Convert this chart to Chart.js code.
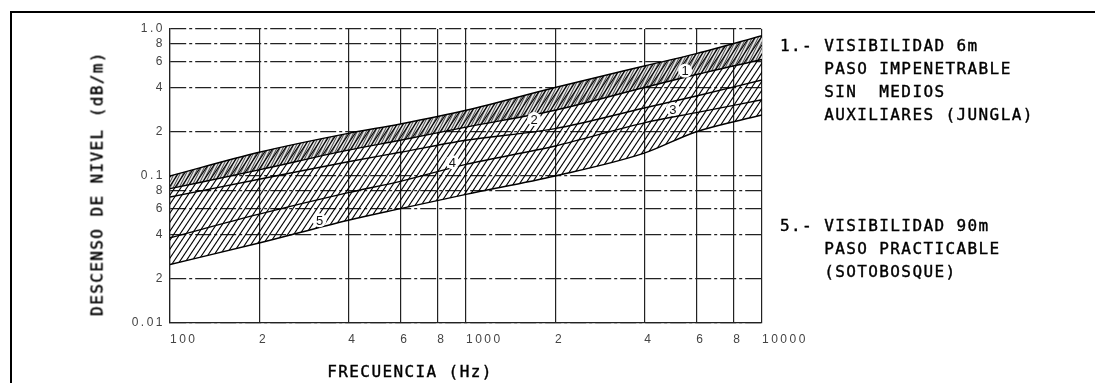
<!DOCTYPE html>
<html lang="es">
<head>
  <meta charset="UTF-8">
  <title>Descenso de nivel vs frecuencia</title>
  <script src="https://cdn.jsdelivr.net/npm/chart.js"></script>
  <style>
    html, body { margin: 0; padding: 0; background: #fff; }
    #wrap { position: relative; width: 1095px; height: 383px; overflow: hidden; }
    #frame {
      position: absolute; left: 10px; top: 11px; width: 1100px; height: 400px;
      border-top: 2px solid #000; border-left: 2px solid #000;
    }
    #chartBox { position: absolute; left: 0; top: 0; width: 1095px; height: 383px; }
    .txt {
      position: absolute; font-family: 'DejaVu Sans Mono', monospace; font-size: 16px;
      letter-spacing: 1.4px; color: #000; white-space: pre; line-height: 23px;
      -webkit-text-stroke: 0.4px #000;
    }
    #ytitle { left: -53px; top: 172px; width: 300px; height: 23px; text-align: center; transform: rotate(-90deg); }
    #xtitle { left: 250px; top: 360px; width: 320px; text-align: center; }
  </style>
</head>
<body>
  <div id="wrap">
    <div id="frame"></div>
    <div id="chartBox"><canvas id="chart"></canvas></div>
    <div class="txt" id="ytitle">DESCENSO DE NIVEL (dB/m)</div>
    <div class="txt" id="xtitle">FRECUENCIA (Hz)</div>
    <div class="txt" style="left:780px; top:34px;">1.- VISIBILIDAD 6m
    PASO IMPENETRABLE
    SIN  MEDIOS
    AUXILIARES (JUNGLA)</div>
    <div class="txt" style="left:780px; top:214px;">5.- VISIBILIDAD 90m
    PASO PRACTICABLE
    (SOTOBOSQUE)</div>
  </div>

  <script>
    // frecuencias (Hz) comunes a las curvas
    const freq = [100, 200, 400, 600, 1000, 2000, 4000, 6000, 10000];
    // descenso de nivel (dB/m) para cada curva
    const curve1 = [0.10, 0.145, 0.195, 0.226, 0.28, 0.40, 0.56, 0.68, 0.90];
    const curve2 = [0.082, 0.11, 0.15, 0.175, 0.215, 0.28, 0.40, 0.49, 0.62];
    const curve3 = [0.072, 0.095, 0.125, 0.145, 0.175, 0.21, 0.29, 0.35, 0.45];
    const curve4 = [0.038, 0.055, 0.077, 0.092, 0.12, 0.16, 0.23, 0.27, 0.33];
    const curve5 = [0.025, 0.035, 0.05, 0.06, 0.075, 0.10, 0.143, 0.20, 0.26];

    // marcas de los ejes
    const xTicks = [100, 200, 400, 600, 800, 1000, 2000, 4000, 6000, 8000, 10000];
    const xLabels = ['100', '2', '4', '6', '8', '1000', '2', '4', '6', '8', '10000'];
    const yTicks = [0.01, 0.02, 0.04, 0.06, 0.08, 0.1, 0.2, 0.4, 0.6, 0.8, 1.0];
    const yLabels = ['0.01', '2', '4', '6', '8', '0.1', '2', '4', '6', '8', '1.0'];

    // numeros de curva (frecuencia, valor)
    const tagText = ['1', '2', '3', '4', '5'];
    const tagFreq = [5500, 1700, 5000, 900, 320];
    const tagVal = [0.52, 0.244, 0.285, 0.124, 0.05];

    // rayado diagonal
    const hatch = (w, h, bg, lw) => {
      const c = document.createElement('canvas');
      c.width = w; c.height = h;
      const g = c.getContext('2d');
      if (bg) { g.fillStyle = bg; g.fillRect(0, 0, w, h); }
      g.strokeStyle = '#000';
      g.lineWidth = lw;
      for (let k = -1; k <= 1; k++) {
        g.beginPath();
        g.moveTo(k * w - w, 2 * h);
        g.lineTo(k * w + 2 * w, -h);
        g.stroke();
      }
      return g.createPattern(c, 'repeat');
    };
    const dense = hatch(3, 6, '#e2e2e2', 0.7);
    const normal = hatch(6, 9, null, 1.1);

    const pts = (vals) => freq.map((f, i) => ({ x: f, y: vals[i] }));
    const lineDs = (vals, fill, bg) => ({
      data: pts(vals),
      borderColor: '#000',
      borderWidth: 1.4,
      pointRadius: 0,
      cubicInterpolationMode: 'monotone',
      fill: fill,
      backgroundColor: bg
    });

    const spacing = {
      id: 'spacing',
      beforeInit(chart) { chart.ctx.letterSpacing = '2.5px'; },
      beforeDraw(chart) { chart.ctx.letterSpacing = '2.5px'; }
    };

    const tagPlugin = {
      id: 'tags',
      afterDatasetsDraw(chart) {
        const { ctx, scales } = chart;
        ctx.save();
        ctx.letterSpacing = '0px';
        ctx.font = '13px "Liberation Sans", sans-serif';
        ctx.textAlign = 'center';
        ctx.textBaseline = 'middle';
        tagText.forEach((t, i) => {
          const x = scales.x.getPixelForValue(tagFreq[i]);
          const y = scales.y.getPixelForValue(tagVal[i]);
          ctx.fillStyle = '#fff';
          ctx.beginPath();
          ctx.arc(x, y, 7, 0, Math.PI * 2);
          ctx.fill();
          ctx.fillStyle = '#111';
          ctx.fillText(t, x, y + 1);
        });
        ctx.restore();
      }
    };

    new Chart(document.getElementById('chart'), {
      type: 'line',
      data: {
        datasets: [
          lineDs(curve1, 4, normal),       // rayado de toda la banda 1-5
          lineDs(curve2, '-1', dense),     // banda densa 1-2
          lineDs(curve3, false, 'transparent'),
          lineDs(curve4, false, 'transparent'),
          lineDs(curve5, false, 'transparent')
        ]
      },
      options: {
        responsive: true,
        maintainAspectRatio: false,
        animation: false,
        layout: { padding: { top: 29, right: 333, left: 0, bottom: 0 } },
        plugins: { legend: { display: false }, tooltip: { enabled: false } },
        scales: {
          x: {
            type: 'logarithmic',
            min: 100,
            max: 10000,
            afterBuildTicks: (s) => { s.ticks = xTicks.map(v => ({ value: v })); },
            afterFit: (s) => { s.height = 60; },
            grid: { color: '#222', lineWidth: 1.2, drawTicks: false },
            border: { color: '#222', width: 1.2 },
            ticks: {
              autoSkip: false, maxRotation: 0, align: 'start', padding: 9,
              color: '#444', font: { family: 'Liberation Sans', size: 12 },
              callback: (v, i) => xLabels[i]
            }
          },
          y: {
            type: 'logarithmic',
            min: 0.01,
            max: 1,
            afterBuildTicks: (s) => { s.ticks = yTicks.map(v => ({ value: v })); },
            afterFit: (s) => { s.width = 170; },
            grid: { color: '#222', lineWidth: 1.2, drawTicks: false },
            border: { color: '#222', width: 1.2, dash: [16, 3, 3, 3] },
            ticks: {
              autoSkip: false, padding: 5,
              color: '#444', font: { family: 'Liberation Sans', size: 12 },
              callback: (v, i) => yLabels[i]
            }
          }
        }
      },
      plugins: [spacing, tagPlugin]
    });
  </script>
</body>
</html>
